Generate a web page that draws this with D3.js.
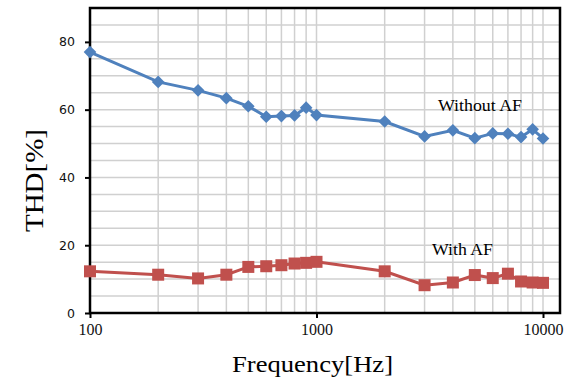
<!DOCTYPE html>
<html>
<head>
<meta charset="utf-8">
<script src="https://cdn.jsdelivr.net/npm/d3@7"></script>
<style>
  body { margin: 0; background: #fff; }
  svg { display: block; }
</style>
</head>
<body>
<div id="chart"></div>
<script>
// data
var freq = [100, 200, 300, 400, 500, 600, 700, 800, 900, 1000, 2000, 3000, 4000, 5000, 6000, 7000, 8000, 9000, 10000];
var withoutAF = [77.0, 68.2, 65.7, 63.4, 61.0, 57.9, 58.1, 58.3, 60.6, 58.4, 56.5, 52.1, 53.9, 51.6, 53.0, 52.9, 51.9, 54.2, 51.5];
var withAF = [12.3, 11.3, 10.2, 11.3, 13.6, 13.8, 14.1, 14.6, 14.8, 15.1, 12.3, 8.2, 9.0, 11.2, 10.3, 11.6, 9.3, 9.0, 8.9];
var yTicks = [0, 20, 40, 60, 80];
var xTicks = [100, 1000, 10000];
var gridX = [200, 300, 400, 500, 600, 700, 800, 900, 1000, 2000, 3000, 4000, 5000, 6000, 7000, 8000, 9000, 10000];
var gridY = d3.range(5, 90, 5);

var svgWidth = 571;
var svgHeight = 385;

//plot box
var plotLeft = 90, plotRight = 560, plotTop = 8, plotBottom = 313;

var svg = d3.select("#chart").append("svg")
    .attr("width", svgWidth)
    .attr("height", svgHeight);

var x = d3.scaleLog().domain([100, 10000]).range([plotLeft, 543]);
var y = d3.scaleLinear().domain([0, 90]).range([plotBottom, plotTop]);

//grid
svg.append("g").selectAll("line")
    .data(gridX).enter().append("line")
    .attr("x1", d => x(d)).attr("x2", d => x(d))
    .attr("y1", plotTop).attr("y2", plotBottom)
    .attr("stroke", "#d0d0d0").attr("stroke-width", 1.5);

svg.append("g").selectAll("line")
    .data(gridY).enter().append("line")
    .attr("x1", plotLeft).attr("x2", plotRight)
    .attr("y1", d => y(d)).attr("y2", d => y(d))
    .attr("stroke", "#d0d0d0").attr("stroke-width", 1.5);

//frame
svg.append("rect")
    .attr("x", plotLeft).attr("y", plotTop)
    .attr("width", plotRight - plotLeft).attr("height", plotBottom - plotTop)
    .attr("fill", "none").attr("stroke", "#000").attr("stroke-width", 2.5);

//axes
var yAxis = d3.axisLeft(y).tickValues(yTicks).tickSize(5).tickPadding(10);
var xAxis = d3.axisBottom(x).tickValues(xTicks).tickSize(5).tickPadding(6)
    .tickFormat(d3.format("d"));

var gy = svg.append("g").attr("transform", `translate(${plotLeft},0)`).call(yAxis);
var gx = svg.append("g").attr("transform", `translate(0,${plotBottom})`).call(xAxis);

[gx, gy].forEach(function(g) {
    g.select(".domain").remove();
    g.selectAll(".tick line").attr("stroke", "#000").attr("stroke-width", 2);
    g.selectAll(".tick text")
        .attr("font-family", "DejaVu Sans, Verdana, sans-serif")
        .attr("font-size", 12.5)
        .attr("fill", "#111");
});
gx.selectAll(".tick text").attr("font-family", "Liberation Serif, serif").attr("font-size", 16);

//lines
var line = d3.line().x((d, i) => x(freq[i])).y(d => y(d));

svg.append("path").datum(withoutAF)
    .attr("d", line).attr("fill", "none")
    .attr("stroke", "#4F81BD").attr("stroke-width", 3);

svg.append("path").datum(withAF)
    .attr("d", line).attr("fill", "none")
    .attr("stroke", "#C0504D").attr("stroke-width", 3);

//markers
svg.append("g").selectAll("path")
    .data(withoutAF).enter().append("path")
    .attr("d", d3.symbol().type(d3.symbolSquare).size(80))
    .attr("transform", (d, i) => `translate(${x(freq[i])},${y(d)}) rotate(45)`)
    .attr("fill", "#4F81BD");

svg.append("g").selectAll("rect")
    .data(withAF).enter().append("rect")
    .attr("x", (d, i) => x(freq[i]) - 6)
    .attr("y", d => y(d) - 6)
    .attr("width", 12).attr("height", 12)
    .attr("fill", "#C0504D");

//series labels
svg.append("text")
    .attr("x", 438).attr("y", 111)
    .attr("font-family", "Liberation Serif, serif").attr("font-size", 16)
    .attr("textLength", 84).attr("lengthAdjust", "spacingAndGlyphs")
    .attr("fill", "#000")
    .text("Without AF");

svg.append("text")
    .attr("x", 432).attr("y", 255)
    .attr("font-family", "Liberation Serif, serif").attr("font-size", 16)
    .attr("textLength", 61).attr("lengthAdjust", "spacingAndGlyphs")
    .attr("fill", "#000")
    .text("With AF");

//axis titles
svg.append("text")
    .attr("x", 232).attr("y", 372)
    .attr("font-family", "Liberation Serif, serif").attr("font-size", 24)
    .attr("textLength", 161).attr("lengthAdjust", "spacingAndGlyphs")
    .attr("fill", "#000")
    .text("Frequency[Hz]");

svg.append("text")
    .attr("transform", "translate(43,232) rotate(-90)")
    .attr("font-family", "Liberation Serif, serif").attr("font-size", 26)
    .attr("textLength", 103).attr("lengthAdjust", "spacingAndGlyphs")
    .attr("fill", "#000")
    .text("THD[%]");
</script>
</body>
</html>
